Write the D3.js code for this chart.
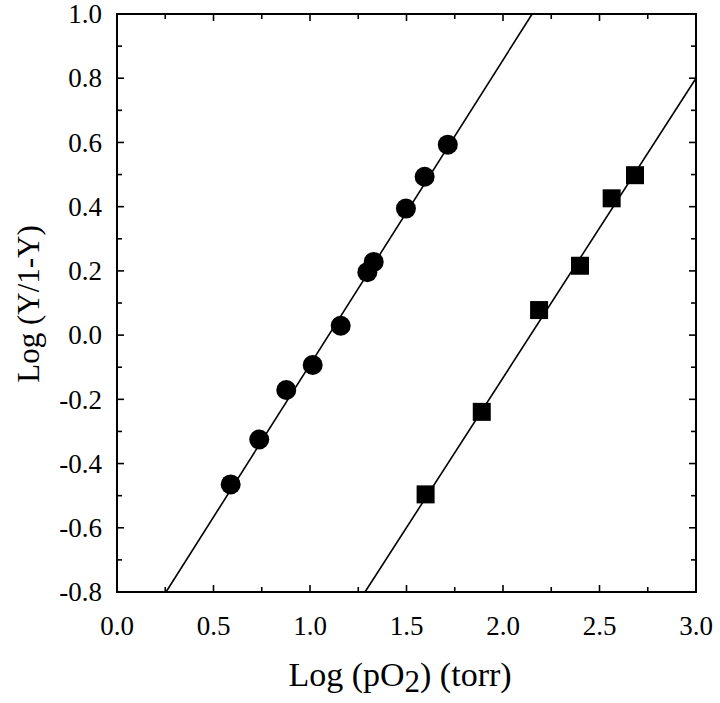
<!DOCTYPE html>
<html>
<head>
<meta charset="utf-8">
<script src="https://cdn.jsdelivr.net/npm/d3@7"></script>
<style>
  body { margin: 0; background: #fff; }
  svg text { font-family: "Liberation Serif", "Times New Roman", serif; fill: #000; }
</style>
</head>
<body>
<svg id="chart" width="720" height="703"></svg>
<script>
// circles (first series)
const circleX = [0.589, 0.737, 0.877, 1.014, 1.159, 1.297, 1.330, 1.497, 1.594, 1.714];
const circleY = [-0.465, -0.325, -0.171, -0.093, 0.029, 0.196, 0.228, 0.394, 0.493, 0.593];
// squares (second series)
const squareX = [1.599, 1.890, 2.187, 2.399, 2.563, 2.684];
const squareY = [-0.496, -0.239, 0.078, 0.216, 0.426, 0.498];
// fitted lines, endpoints
const fitCircleX = [0.254, 2.151];
const fitCircleY = [-0.8, 1.0];
const fitSquareX = [1.285, 3.0];
const fitSquareY = [-0.8, 0.8];

const xTicks = [0.0, 0.5, 1.0, 1.5, 2.0, 2.5, 3.0];
const yTicks = [-0.8, -0.6, -0.4, -0.2, 0.0, 0.2, 0.4, 0.6, 0.8, 1.0];

const svg = d3.select("#chart"),
  margin = {top: 14, right: 24, bottom: 111, left: 117},
  width = 720 - margin.left - margin.right,
  height = 703 - margin.top - margin.bottom,
  g = svg.append("g").attr("transform", `translate(${margin.left},${margin.top})`);

const x = d3.scaleLinear().domain([0, 3]).range([0, width]);
const y = d3.scaleLinear().domain([-0.8, 1.0]).range([height, 0]);

const xMinor = d3.range(0, 3.001, 0.25);
const yMinor = d3.range(-0.8, 1.001, 0.1);

// inward ticks on all four sides
const isMajorX = v => Math.abs(v * 2 - Math.round(v * 2)) < 1e-6;
const isMajorY = v => Math.abs(v * 5 - Math.round(v * 5)) < 1e-6;

const tickG = g.append("g").attr("stroke", "#000").attr("stroke-width", 1.6);
xMinor.forEach(v => {
  const len = isMajorX(v) ? 7 : 5;
  tickG.append("line").attr("x1", x(v)).attr("x2", x(v)).attr("y1", height).attr("y2", height - len);
  tickG.append("line").attr("x1", x(v)).attr("x2", x(v)).attr("y1", 0).attr("y2", len);
});
yMinor.forEach(v => {
  const len = isMajorY(v) ? 7 : 5;
  tickG.append("line").attr("x1", 0).attr("x2", len).attr("y1", y(v)).attr("y2", y(v));
  tickG.append("line").attr("x1", width).attr("x2", width - len).attr("y1", y(v)).attr("y2", y(v));
});

// tick labels
const fmt = d3.format(".1f");
const fixMinus = s => s.replace("\u2212", "-");
g.append("g").selectAll("text")
  .data(xTicks)
  .join("text")
  .attr("x", d => x(d))
  .attr("y", height + 43)
  .attr("text-anchor", "middle")
  .style("font-size", "27px")
  .text(d => fixMinus(fmt(d)));
g.append("g").selectAll("text")
  .data(yTicks)
  .join("text")
  .attr("x", -15)
  .attr("y", d => y(d))
  .attr("dy", "0.34em")
  .attr("text-anchor", "end")
  .style("font-size", "27px")
  .text(d => fixMinus(fmt(d)));

// frame
g.append("rect")
  .attr("width", width).attr("height", height)
  .attr("fill", "none").attr("stroke", "#000").attr("stroke-width", 2);

// fit lines
const line = d3.line().x(d => x(d[0])).y(d => y(d[1]));
g.append("path")
  .datum(d3.zip(fitCircleX, fitCircleY))
  .attr("fill", "none").attr("stroke", "#000").attr("stroke-width", 1.6)
  .attr("d", line);
g.append("path")
  .datum(d3.zip(fitSquareX, fitSquareY))
  .attr("fill", "none").attr("stroke", "#000").attr("stroke-width", 1.6)
  .attr("d", line);

// markers
g.selectAll("circle.pt")
  .data(d3.zip(circleX, circleY))
  .join("circle")
  .attr("class", "pt")
  .attr("cx", d => x(d[0])).attr("cy", d => y(d[1]))
  .attr("r", 10).attr("fill", "#000");

const sq = 18;
g.selectAll("rect.pt")
  .data(d3.zip(squareX, squareY))
  .join("rect")
  .attr("class", "pt")
  .attr("x", d => x(d[0]) - sq / 2).attr("y", d => y(d[1]) - sq / 2)
  .attr("width", sq).attr("height", sq).attr("fill", "#000");

// axis titles
const xt = svg.append("text")
  .attr("x", 400)
  .attr("y", 686)
  .attr("text-anchor", "middle")
  .style("font-size", "34px");
xt.append("tspan").text("Log (pO");
xt.append("tspan").attr("dy", 6).style("font-size", "31px").text("2");
xt.append("tspan").attr("dy", -6).text(") (torr)");

svg.append("text")
  .attr("transform", "translate(39,304) rotate(-90)")
  .attr("text-anchor", "middle")
  .style("font-size", "31px")
  .text("Log (Y/1-Y)");
</script>
</body>
</html>
